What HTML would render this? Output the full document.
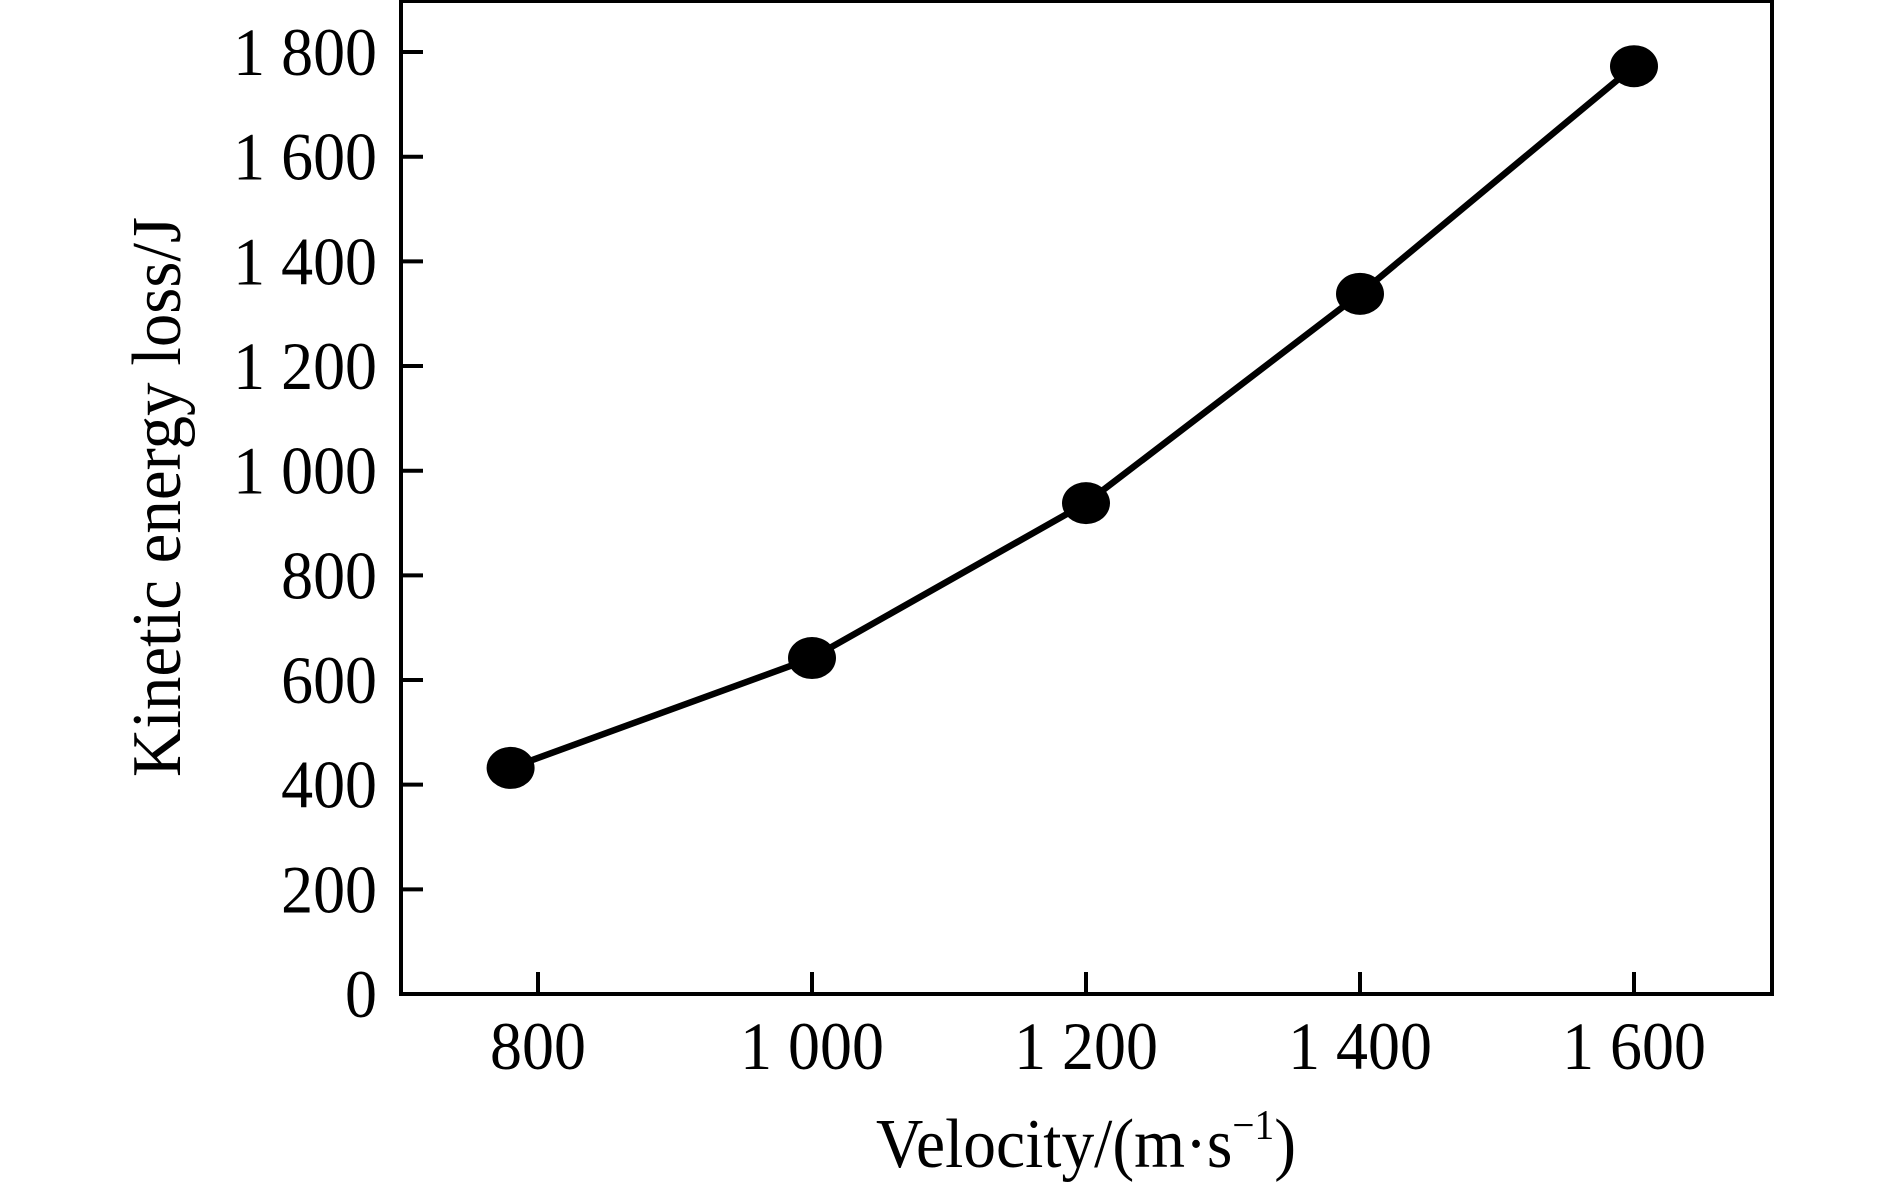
<!DOCTYPE html>
<html><head><meta charset="utf-8"><style>
html,body{margin:0;padding:0;background:#fff;}
svg{display:block;}
text{font-family:"Liberation Serif",serif;fill:#000;}
</style></head><body>
<svg id="chart" width="1890" height="1187" viewBox="0 0 1890 1187" xmlns="http://www.w3.org/2000/svg">
<rect x="401" y="1" width="1371" height="993" fill="none" stroke="#000" stroke-width="4"/>
<g id="xticks"></g>
<g id="yticks"></g>
<g id="series"></g>
<text x="1086" y="1167" font-size="70" text-anchor="middle" textLength="420" lengthAdjust="spacingAndGlyphs">Velocity/(m·s<tspan font-size="42" dy="-28">−1</tspan><tspan dy="28">)</tspan></text>
<text transform="translate(180,497) rotate(-90)" font-size="70" text-anchor="middle" textLength="560" lengthAdjust="spacingAndGlyphs">Kinetic energy loss/J</text>
</svg>
<script>
const xTicks = [800, 1000, 1200, 1400, 1600];
const xTickLabels = ["800", "1 000", "1 200", "1 400", "1 600"];
const yTicks = [0, 200, 400, 600, 800, 1000, 1200, 1400, 1600, 1800];
const yTickLabels = ["0", "200", "400", "600", "800", "1 000", "1 200", "1 400", "1 600", "1 800"];
const velocities = [780, 1000, 1200, 1400, 1600];
const energyLoss = [432, 642, 938, 1338, 1773];

const NS = "http://www.w3.org/2000/svg";
function xs(v){ return 538 + (v - 800) * 1.37; }
function ys(v){ return 994 - v * 0.5233; }
function mk(tag, attrs, parent){
  const e = document.createElementNS(NS, tag);
  for (const k in attrs) e.setAttribute(k, attrs[k]);
  parent.appendChild(e);
  return e;
}
const gx = document.getElementById('xticks');
xTicks.forEach((t, i) => {
  const l = mk('line', {x1: xs(t), x2: xs(t), y1: 994, y2: 972, stroke: '#000', 'stroke-width': 4}, gx);
  
  
  const tx = mk('text', {x: xs(t), y: 1069, 'font-size': 68, 'text-anchor': 'middle', transform: 'translate(' + xs(t) + ',0) scale(0.94,1) translate(' + (-xs(t)) + ',0)'}, gx);
  tx.textContent = xTickLabels[i];
  
  
});
const gy = document.getElementById('yticks');
yTicks.forEach((t, i) => {
  const l = mk('line', {x1: 401, x2: 423, y1: ys(t), y2: ys(t), stroke: '#000', 'stroke-width': 4}, gy);
  
  
  const tx = mk('text', {x: 377, y: ys(t) + 23, 'font-size': 68, 'text-anchor': 'end', transform: 'translate(377,0) scale(0.94,1) translate(-377,0)'}, gy);
  tx.textContent = yTickLabels[i];
  
  
});
const gs = document.getElementById('series');
const pts = velocities.map((v, i) => xs(v) + ',' + ys(energyLoss[i])).join(' ');
const pl = mk('polyline', {points: pts, fill: 'none', stroke: '#000', 'stroke-width': 6.5, 'stroke-linejoin': 'round'}, gs);


velocities.forEach((v, i) => {
  const c = mk('ellipse', {cx: xs(v), cy: ys(energyLoss[i]), rx: 24, ry: 21, fill: '#000'}, gs);
  
  
});
</script>
</body></html>
